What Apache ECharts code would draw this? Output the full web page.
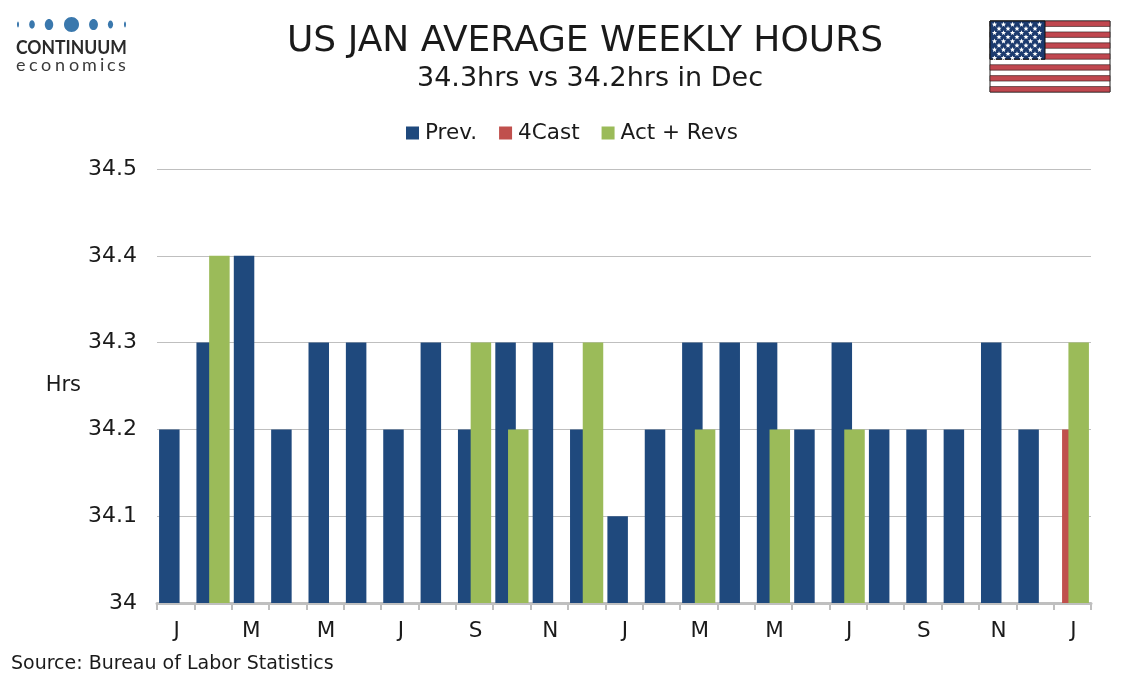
<!DOCTYPE html>
<html><head><meta charset="utf-8">
<style>html,body{margin:0;padding:0;background:#fff}#c{width:1134px;height:680px}</style>
<script src="https://cdn.jsdelivr.net/npm/echarts@6/dist/echarts.min.js"></script>
</head><body><div id="c"></div>
<script>
const categories = ['J','F','M','A','M','J','J','A','S','O','N','D','J','F','M','A','M','J','J','A','S','O','N','D','J'];
const prevValues = [34.2,34.3,34.4,34.2,34.3,34.3,34.2,34.3,34.2,34.3,34.3,34.2,34.1,34.2,34.3,34.3,34.3,34.2,34.3,34.2,34.2,34.2,34.3,34.2,null];
const forecastValues = [null,null,null,null,null,null,null,null,null,null,null,null,null,null,null,null,null,null,null,null,null,null,null,null,34.2];
const actualValues = [null,34.4,null,null,null,null,null,null,34.3,34.2,null,34.3,null,null,34.2,null,34.2,null,34.2,null,null,null,null,null,34.3];

const FONT = '"DejaVu Sans", Verdana, sans-serif';
const TEXT = '#1a1a1a';
const graphic = [];

// Logo
const logoBlue = '#3a78ad';
[[18,1,3],[32,2.8,4.2],[49,4.2,5.6],[71.5,7.5,7.5],[93.5,4.4,5.6],[110.5,2.6,4],[125,1,3]].forEach(d => {
  graphic.push({type:'ellipse', shape:{cx:d[0],cy:24.5,rx:d[1],ry:d[2]}, style:{fill:logoBlue}, silent:true});
});
graphic.push({type:'text', x:16, y:47.5, scaleX:0.9, style:{text:'CONTINUUM', font:'700 19.5px Lato, sans-serif', fill:'#2a2a2a', textVerticalAlign:'middle'}, silent:true});
'economics'.split('').forEach((ch,i) => {
  const xs = [16,29,41,55,69,82,100,107,118];
  graphic.push({type:'text', x:xs[i], y:65, style:{text:ch, font:'18px Lato, sans-serif', fill:'#3a3a3a', textVerticalAlign:'middle'}, silent:true});
});

// Flag
const fx=990, fy=21, fw=120, fh=71, sh=fh/13, cw=55, ch=sh*7;
graphic.push({type:'rect', shape:{x:fx,y:fy,width:fw,height:fh}, style:{fill:'#fff',stroke:'#222',lineWidth:1}, silent:true});
for(let i=0;i<13;i+=2){
  graphic.push({type:'rect', shape:{x:fx,y:fy+i*sh,width:fw,height:sh}, style:{fill:'#c0474f',stroke:'#2a1a1a',lineWidth:0.6}, silent:true});
}
graphic.push({type:'rect', shape:{x:fx,y:fy,width:cw,height:ch}, style:{fill:'#1c3a6e',stroke:'#111',lineWidth:1}, silent:true});
function starPts(cx,cy,R){
  const p=[];
  for(let i=0;i<10;i++){
    const r=i%2?R*0.45:R, a=-Math.PI/2+i*Math.PI/5;
    p.push([cx+r*Math.cos(a),cy+r*Math.sin(a)]);
  }
  return p;
}
for(let r=0;r<9;r++){
  const n = r%2===0?6:5, off = r%2===0?4.5:9;
  for(let k=0;k<n;k++){
    graphic.push({type:'polygon', shape:{points:starPts(fx+off+k*9,fy+3.5+r*4.2,2.7)}, style:{fill:'#fff'}, silent:true});
  }
}

// Source
graphic.push({type:'text', x:11, y:664, style:{text:'Source: Bureau of Labor Statistics', font:'19px '+FONT, fill:TEXT, textVerticalAlign:'middle'}, silent:true});

const barStyle = {type:'bar', barWidth:20.5, barGap:'-69%'};
const chart = echarts.init(document.getElementById('c'), null, {renderer:'canvas'});
chart.setOption({
  animation:false,
  backgroundColor:'#fff',
  title:[
    {text:'US JAN AVERAGE WEEKLY HOURS', left:580, top:19, textAlign:'center', textStyle:{fontFamily:FONT,fontWeight:'normal',fontSize:36,color:TEXT}},
    {text:'34.3hrs vs 34.2hrs in Dec', left:585, top:60, textAlign:'center', textStyle:{fontFamily:FONT,fontWeight:'normal',fontSize:27,color:TEXT}}
  ],
  legend:{
    left:401, top:117, itemWidth:13, itemHeight:13, itemGap:22, icon:'rect',
    textStyle:{fontFamily:FONT,fontSize:21.5,color:TEXT,padding:[0,0,0,1]},
    data:['Prev.','4Cast','Act + Revs']
  },
  grid:{left:157,right:43,top:169,bottom:77,containLabel:false},
  xAxis:{
    type:'category', data:categories,
    axisLine:{lineStyle:{color:'#bfbfbf',width:3}},
    axisTick:{show:true,alignWithLabel:false,interval:0,length:7,lineStyle:{color:'#bfbfbf',width:2}},
    axisLabel:{interval:1,margin:17,fontFamily:FONT,fontSize:21.5,color:TEXT,padding:[0,0,0,2]}
  },
  yAxis:{
    type:'value', min:34, max:34.5, interval:0.1,
    name:'Hrs', nameLocation:'middle', nameRotate:0, nameGap:76,
    nameTextStyle:{fontFamily:FONT,fontSize:21,color:TEXT,padding:[4,0,0,0]},
    axisLine:{show:false}, axisTick:{show:false},
    axisLabel:{margin:20,fontFamily:FONT,fontSize:22,color:TEXT,padding:[2,0,0,0]},
    splitLine:{lineStyle:{color:'#bfbfbf',width:1}}
  },
  series:[
    Object.assign({name:'Prev.',data:prevValues,itemStyle:{color:'#1f497d'}},barStyle),
    Object.assign({name:'4Cast',data:forecastValues,itemStyle:{color:'#c0504d'}},barStyle),
    Object.assign({name:'Act + Revs',data:actualValues,itemStyle:{color:'#9bbb59'}},barStyle)
  ],
  graphic:graphic
});
</script></body></html>
